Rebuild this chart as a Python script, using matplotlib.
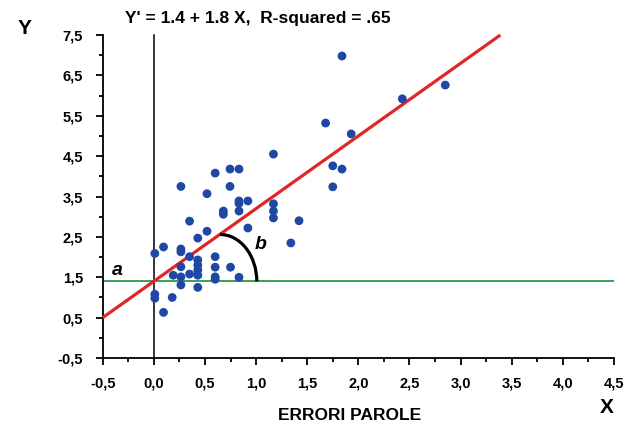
import matplotlib
matplotlib.use("Agg")
import matplotlib.pyplot as plt
from matplotlib.patches import Arc
from matplotlib import font_manager
from matplotlib.ticker import MultipleLocator, FuncFormatter
import numpy as np

# ---------------- data ----------------
x_vals = [1.84, 2.85, 2.43, 1.68, 1.93, 1.17, 1.75, 1.84, 1.75, 1.17, 1.17, 1.17,
          1.42, 1.34, 0.60, 0.745, 0.833, 0.265, 0.745, 0.52, 0.833, 0.833, 0.92,
          0.68, 0.68, 0.833, 0.35, 0.92, 0.52, 0.43, 0.01, 0.095, 0.265, 0.265,
          0.35, 0.43, 0.43, 0.43, 0.43, 0.265, 0.60, 0.60, 0.75, 0.60, 0.60,
          0.19, 0.265, 0.35, 0.833, 0.265, 0.43, 0.01, 0.01, 0.18, 0.095]
y_vals = [6.98, 6.26, 5.92, 5.32, 5.05, 4.55, 4.26, 4.18, 3.74, 3.32, 3.14, 2.97,
          2.90, 2.35, 4.08, 4.18, 4.18, 3.75, 3.75, 3.57, 3.39, 3.33, 3.39,
          3.14, 3.06, 3.14, 2.89, 2.72, 2.64, 2.47, 2.09, 2.25, 2.20, 2.13,
          2.01, 1.93, 1.80, 1.68, 1.55, 1.76, 2.01, 1.75, 1.75, 1.51, 1.45,
          1.55, 1.51, 1.58, 1.50, 1.31, 1.25, 1.08, 0.98, 1.00, 0.63]

intercept = 1.4
slope = 1.8
x_ticks = [-0.5, 0.0, 0.5, 1.0, 1.5, 2.0, 2.5, 3.0, 3.5, 4.0, 4.5]
y_ticks = [-0.5, 0.5, 1.5, 2.5, 3.5, 4.5, 5.5, 6.5, 7.5]
title_text = "Y' = 1.4 + 1.8 X,  R-squared = .65"
x_label = "ERRORI PAROLE"

# ---------------- fonts ----------------
names = {f.name for f in font_manager.fontManager.ttflist}
narrow = "Liberation Sans Narrow" if "Liberation Sans Narrow" in names else "Liberation Sans"
plt.rcParams['font.family'] = ['Liberation Sans', 'DejaVu Sans']

fig = plt.figure(figsize=(6.28, 4.25), dpi=100)
ax = fig.add_axes([0.1635, 0.1576, 0.8142, 0.76])

xmin, xmax = -0.5, 4.5
ymin, ymax = -0.5, 7.5
ax.set_xlim(xmin, xmax)
ax.set_ylim(ymin, ymax)

# reference lines
ax.plot([0, 0], [ymin, ymax], color='black', lw=1.1, zorder=2, clip_on=False)
ax.plot([xmin, xmax], [intercept, intercept], color='#17903a', lw=1.2, zorder=2)
x_end = (ymax - intercept) / slope
xs = np.array([xmin, x_end])
ax.plot(xs, intercept + slope * xs, color='#e02626', lw=2.3, zorder=3,
        solid_capstyle='butt', clip_on=False)

# angle arc
arc_cx = 0.647
arc = Arc((arc_cx, intercept), width=2 * 0.36, height=2 * 1.16,
          theta1=0, theta2=90, color='black', lw=2.3, zorder=3)
ax.add_patch(arc)

# points
ax.scatter(x_vals, y_vals, s=40, color='#1f47a6', edgecolors='none', zorder=4)

# labels a, b
ax.text(-0.36, 1.68, 'a', fontsize=14, fontweight='bold', style='italic',
        ha='center', va='center')
ax.text(1.04, 2.3, 'b', fontsize=14, fontweight='bold', style='italic',
        ha='center', va='center')

# spines
for s in ['top', 'right']:
    ax.spines[s].set_visible(False)
for s in ['left', 'bottom']:
    ax.spines[s].set_linewidth(1.3)

ax.set_xticks(x_ticks)
ax.set_yticks(y_ticks)
ax.xaxis.set_minor_locator(MultipleLocator(0.25))
ax.yaxis.set_minor_locator(MultipleLocator(0.5))
fmt = FuncFormatter(lambda v, p: f"{v:.1f}".replace('.', ','))
ax.xaxis.set_major_formatter(fmt)
ax.yaxis.set_major_formatter(fmt)
ax.tick_params(which='major', direction='out', length=5, width=1.3,
               labelsize=10.5)
ax.tick_params(axis='x', which='major', pad=8)
ax.tick_params(axis='y', which='major', pad=9)
ax.tick_params(which='minor', direction='out', length=3, width=1.3)
for lab in ax.get_xticklabels() + ax.get_yticklabels():
    lab.set_fontweight('bold')

fig.text(0.411, 0.957, title_text, fontsize=12.5, fontweight='bold',
         family=[narrow, 'DejaVu Sans'], ha='center', va='center')
fig.text(0.557, 0.022, x_label, fontsize=12.5, fontweight='bold',
         family=[narrow, 'DejaVu Sans'], ha='center', va='center')
fig.text(0.039, 0.934, 'Y', fontsize=15, fontweight='bold', ha='center', va='center')
fig.text(0.966, 0.042, 'X', fontsize=15, fontweight='bold', ha='center', va='center')

fig.savefig('out.png', dpi=100)
